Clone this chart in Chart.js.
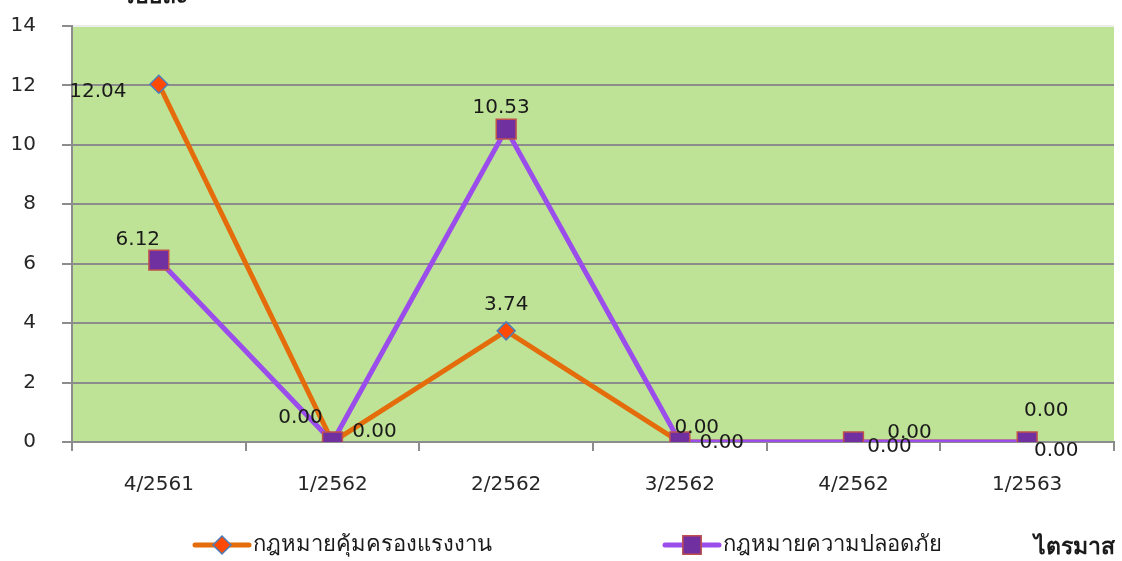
<!DOCTYPE html>
<html>
<head>
<meta charset="utf-8">
<script src="https://cdn.jsdelivr.net/npm/chart.js@4.4.1/dist/chart.umd.min.js"></script>
<style>
  html, body { margin: 0; padding: 0; background: #fff; }
  #wrap { width: 1122px; height: 561px; }
</style>
</head>
<body>
<div id="wrap"><canvas id="chart" width="1122" height="561"></canvas></div>
<script>
const quarters = ['4/2561', '1/2562', '2/2562', '3/2562', '4/2562', '1/2563'];
const labourLaw = [12.04, 0, 3.74, 0, 0, 0];
const safetyLaw = [6.12, 0, 10.53, 0, 0, 0];
const seriesNames = ['กฎหมายคุ้มครองแรงงาน', 'กฎหมายความปลอดภัย'];
const yTitle = 'ร้อยละ';
const xTitle = 'ไตรมาส';

// where each value label sits relative to its point (px)
const labourOffsets = [[-61, 8], [-32, -24], [0, -26], [17, -14], [56, -9], [19, -31]];
const safetyOffsets = [[-21, -20], [42, -10], [-5, -21], [42, 1], [36, 5], [29, 9]];

const FONT = '"DejaVu Sans", Tahoma, sans-serif';
const ORANGE = '#E46C0A';
const PURPLE = '#9B4DEB';

const plotBg = {
  id: 'plotBg',
  beforeDraw(c) {
    const a = c.chartArea, ctx = c.ctx;
    ctx.save();
    ctx.fillStyle = '#fff';
    ctx.fillRect(0, 0, c.width, c.height);
    ctx.fillStyle = '#BEE396';
    ctx.fillRect(a.left, a.top, a.right - a.left, a.bottom - a.top);
    ctx.restore();
  }
};

const valueLabels = {
  id: 'valueLabels',
  afterDatasetsDraw(c) {
    const ctx = c.ctx;
    ctx.save();
    ctx.font = '20px ' + FONT;
    ctx.fillStyle = '#1a1a1a';
    ctx.textAlign = 'center';
    ctx.textBaseline = 'middle';
    const offs = [labourOffsets, safetyOffsets];
    c.data.datasets.forEach((ds, i) => {
      c.getDatasetMeta(i).data.forEach((pt, j) => {
        const o = offs[i][j];
        ctx.fillText(ds.data[j].toFixed(2), pt.x + o[0], pt.y + o[1]);
      });
    });
    ctx.restore();
  }
};

const legendAndTitles = {
  id: 'legendAndTitles',
  afterDraw(c) {
    const ctx = c.ctx;
    const y = 545;
    const items = [
      { x: 195, color: ORANGE, style: 'rectRot', r: 9, fill: '#FF4A05', border: '#4A7EBB', name: seriesNames[0] },
      { x: 665, color: PURPLE, style: 'rect', r: 13, fill: '#7030A0', border: '#C0504D', name: seriesNames[1] }
    ];
    ctx.save();
    items.forEach(it => {
      ctx.strokeStyle = it.color;
      ctx.lineWidth = 5;
      ctx.lineCap = 'round';
      ctx.beginPath();
      ctx.moveTo(it.x, y);
      ctx.lineTo(it.x + 54, y);
      ctx.stroke();
      ctx.fillStyle = it.fill;
      ctx.strokeStyle = it.border;
      ctx.lineWidth = 1.5;
      Chart.helpers.drawPoint(ctx, { pointStyle: it.style, radius: it.r, borderWidth: 1.5 }, it.x + 27, y);
      ctx.fillStyle = '#1a1a1a';
      ctx.font = '22px ' + FONT;
      ctx.textAlign = 'left';
      ctx.textBaseline = 'middle';
      ctx.fillText(it.name, it.x + 58, y);
    });
    ctx.font = 'bold 23px ' + FONT;
    ctx.textAlign = 'right';
    ctx.textBaseline = 'middle';
    ctx.fillText(xTitle, 1115, 548);
    ctx.textAlign = 'center';
    ctx.textBaseline = 'alphabetic';
    ctx.fillText(yTitle, 155, 3);
    ctx.restore();
  }
};

const ctx = document.getElementById('chart').getContext('2d');
new Chart(ctx, {
  type: 'line',
  data: {
    labels: quarters,
    datasets: [
      {
        label: seriesNames[0],
        data: labourLaw,
        borderColor: ORANGE,
        borderWidth: 5,
        pointStyle: 'rectRot',
        pointRadius: 9,
        pointBackgroundColor: '#FF4A05',
        pointBorderColor: '#4A7EBB',
        pointBorderWidth: 1.5,
        tension: 0,
        order: 2
      },
      {
        label: seriesNames[1],
        data: safetyLaw,
        borderColor: PURPLE,
        borderWidth: 5,
        pointStyle: 'rect',
        pointRadius: 14,
        pointBackgroundColor: '#7030A0',
        pointBorderColor: '#C0504D',
        pointBorderWidth: 1.5,
        tension: 0,
        order: 1
      }
    ]
  },
  options: {
    responsive: false,
    animation: false,
    layout: { autoPadding: false, padding: { top: 26, right: 8, left: 0, bottom: 0 } },
    plugins: {
      legend: { display: false },
      tooltip: { enabled: false }
    },
    scales: {
      x: {
        offset: true,
        grid: {
          offset: true,
          drawOnChartArea: false,
          drawTicks: true,
          tickLength: 9,
          color: '#8C8C8C',
          lineWidth: 2
        },
        border: { color: '#8C8C8C', width: 2 },
        ticks: {
          font: { size: 20, family: FONT },
          color: '#262626',
          padding: 22
        },
        afterFit(s) {
          s.height = 119;
          s.paddingLeft = 0;
          s.paddingRight = 0;
        }
      },
      y: {
        min: 0,
        max: 14,
        ticks: {
          stepSize: 2,
          font: { size: 20, family: FONT },
          color: '#262626',
          padding: 26
        },
        grid: {
          color: c => c.tick && c.tick.value === 14 ? '#EDEDED' : '#8C8C8C',
          lineWidth: 2,
          tickLength: 10,
          tickColor: '#8C8C8C'
        },
        border: { color: '#8C8C8C', width: 2 },
        afterFit(s) {
          s.width = 72;
          s.paddingTop = 0;
          s.paddingBottom = 0;
        }
      }
    }
  },
  plugins: [plotBg, valueLabels, legendAndTitles]
});
</script>
</body>
</html>
